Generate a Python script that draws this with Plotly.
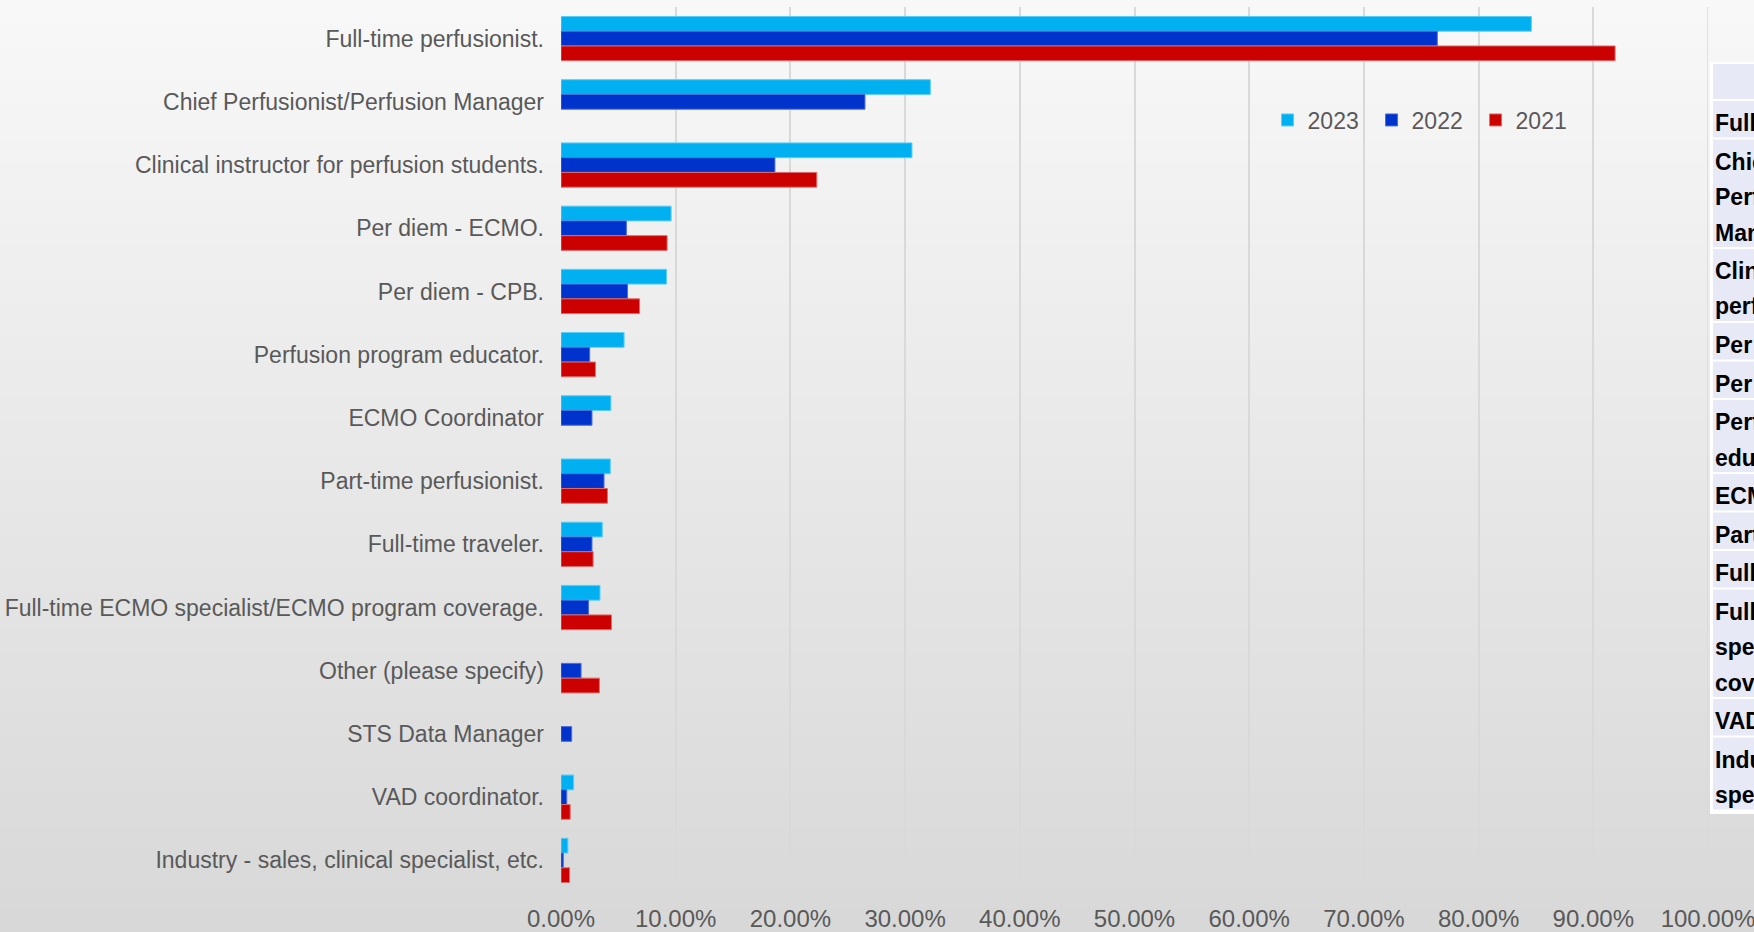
import plotly.graph_objects as go

# Share of respondents by job role, survey years 2021-2023
categories = [
    "Full-time perfusionist.",
    "Chief Perfusionist/Perfusion Manager",
    "Clinical instructor for perfusion students.",
    "Per diem - ECMO.",
    "Per diem - CPB.",
    "Perfusion program educator.",
    "ECMO Coordinator",
    "Part-time perfusionist.",
    "Full-time traveler.",
    "Full-time ECMO specialist/ECMO program coverage.",
    "Other (please specify)",
    "STS Data Manager",
    "VAD coordinator.",
    "Industry - sales, clinical specialist, etc.",
]
share_2023 = [0.846, 0.322, 0.306, 0.096, 0.092, 0.055, 0.0435, 0.043, 0.036, 0.034, None, None, 0.011, 0.006]
share_2022 = [0.764, 0.265, 0.1865, 0.057, 0.058, 0.025, 0.027, 0.0375, 0.027, 0.024, 0.0175, 0.0093, 0.005, 0.002]
share_2021 = [0.919, None, 0.223, 0.0925, 0.0685, 0.030, None, 0.0405, 0.028, 0.044, 0.0335, None, 0.008, 0.0075]

# partly visible spreadsheet table at the right edge
table_rows = [
    ["Full-time perfusionist."],
    ["Chief", "Perfusionist/Perfusion", "Manager"],
    ["Clinical instructor for", "perfusion students."],
    ["Per diem - ECMO."],
    ["Per diem - CPB."],
    ["Perfusion program", "educator."],
    ["ECMO Coordinator"],
    ["Part-time perfusionist."],
    ["Full-time traveler."],
    ["Full-time ECMO", "specialist/ECMO program", "coverage."],
    ["VAD coordinator."],
    ["Industry - sales, clinical", "specialist, etc."],
]

COLORS = {'2023': '#00B0F0', '2022': '#0033CC', '2021': '#CC0000'}
EDGES = {'2023': '#5ccdf5', '2022': '#4a6fd8', '2021': '#df6a6a'}
FONT = "Liberation Sans, Arial, sans-serif"
TEXT_GREY = '#595959'

W, H = 1754, 932
M_L, M_R, M_T, M_B = 561, 46, 7, 40
PW, PH = W - M_L - M_R, H - M_T - M_B


def xp(px):
    return (px - M_L) / PW


def yp(py):
    return 1 - (py - M_T) / PH


fig = go.Figure()

for year, vals in [('2023', share_2023), ('2022', share_2022), ('2021', share_2021)]:
    fig.add_trace(go.Bar(
        name=year,
        y=categories,
        x=vals,
        orientation='h',
        marker=dict(color=COLORS[year], line=dict(color=EDGES[year], width=1)),
        hovertemplate='%{y}<br>' + year + ': %{x:.2%}<extra></extra>'
    ))

shapes = []

# vertical background gradient
n_strips = 80
top_c, bot_c = 248, 216
for i in range(n_strips):
    c = round(top_c + (bot_c - top_c) * i / (n_strips - 1))
    y0 = H * i / n_strips
    y1 = H * (i + 1) / n_strips + 1
    shapes.append(dict(
        type='rect', xref='paper', yref='paper', layer='below',
        x0=xp(-5), x1=xp(W + 5), y0=yp(y1), y1=yp(y0),
        line=dict(width=0), fillcolor=f'rgb({c},{c},{c})'
    ))

# 100% gridline (right edge of the plot area)
shapes.append(dict(type='line', xref='x', yref='paper', layer='below',
                   x0=1, x1=1, y0=0, y1=1, line=dict(color='#d9d9d9', width=1.5)))

# table block
LAV = '#e8e9f6'
tbl_left = 1710
shapes.append(dict(type='rect', xref='paper', yref='paper', layer='above',
                   x0=xp(tbl_left), x1=xp(W + 20), y0=yp(814), y1=yp(62),
                   line=dict(width=0), fillcolor='white'))
shapes.append(dict(type='rect', xref='paper', yref='paper', layer='above',
                   x0=xp(tbl_left + 3), x1=xp(W + 20), y0=yp(99), y1=yp(64),
                   line=dict(width=0), fillcolor=LAV))

annotations = []
line_h = 35.5
top = 101
for row in table_rows:
    h = len(row) * line_h + 1
    shapes.append(dict(type='rect', xref='paper', yref='paper', layer='above',
                       x0=xp(tbl_left + 3), x1=xp(W + 20), y0=yp(top + h), y1=yp(top),
                       line=dict(width=0), fillcolor=LAV))
    for i, txt in enumerate(row):
        annotations.append(dict(
            xref='paper', yref='paper', x=xp(tbl_left + 3), y=yp(top + 22 + i * line_h),
            xanchor='left', yanchor='middle', showarrow=False, text=txt,
            font=dict(family=FONT, size=23, color='black', weight='bold')
        ))
    top += h + 2

fig.update_layout(
    width=W,
    height=H,
    barmode='group',
    bargap=0.30,
    bargroupgap=0,
    margin=dict(l=M_L, r=M_R, t=M_T, b=M_B, autoexpand=False),
    paper_bgcolor='#e8e8e8',
    plot_bgcolor='rgba(0,0,0,0)',
    font=dict(family=FONT, color=TEXT_GREY),
    showlegend=True,
    legend=dict(
        orientation='h', x=0.616, xanchor='left', y=yp(120), yanchor='middle',
        font=dict(size=23, color=TEXT_GREY), bgcolor='rgba(0,0,0,0)',
        traceorder='normal', itemwidth=30, entrywidth=59
    ),
    xaxis=dict(
        range=[0, 1], dtick=0.1, tickformat='.2%',
        showgrid=True, gridcolor='#d9d9d9', gridwidth=1.5,
        zeroline=False, showline=False,
        ticklabelstandoff=10, ticklabeloverflow='allow',
        tickfont=dict(size=24, color=TEXT_GREY),
        fixedrange=True
    ),
    yaxis=dict(
        autorange='reversed', showgrid=False, zeroline=False, showline=False,
        ticks='', ticklabelstandoff=16,
        tickfont=dict(size=23, color=TEXT_GREY),
        fixedrange=True
    ),
    shapes=shapes,
    annotations=annotations,
)

# drop the default page margin so the figure fills the window
fig.write_html("out.html", config={'displayModeBar': False},
               post_script="document.body.style.margin='0';")
